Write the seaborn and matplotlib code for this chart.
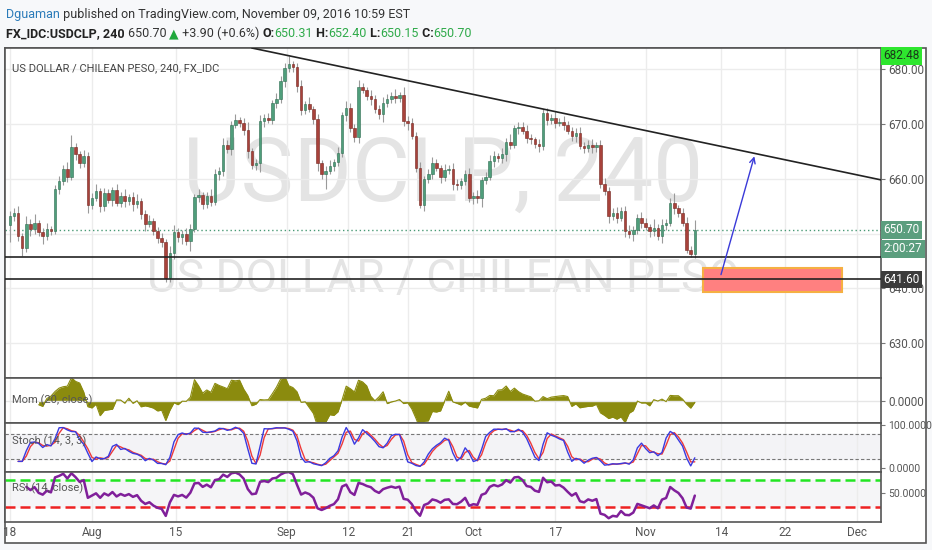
import matplotlib
matplotlib.use('Agg')
import matplotlib.pyplot as plt
from matplotlib.patches import Rectangle
import numpy as np
import pandas as pd
import seaborn as sns

sns.set_theme(style='white')
plt.rcParams['font.family'] = ['Roboto', 'DejaVu Sans']

# price bars (index = bar number, roughly half a trading day each)
open0 = 651.5
closes = [653.2,653.8,649.5,647.3,651.8,650.8,652.0,650.2,649.6,650.9,
          650.4,658.2,659.6,661.8,660.4,665.8,664.5,662.8,664.2,655.2,
          656.5,657.8,655.0,657.4,656.2,658.0,655.6,656.8,655.9,656.6,
          655.4,656.0,653.5,651.8,652.3,650.5,649.2,648.5,641.8,646.5,
          650.2,649.3,650.0,648.6,650.8,656.6,657.0,655.4,656.8,655.8,
          660.8,661.5,666.2,665.4,669.8,670.8,670.2,668.9,665.0,662.5,
          662.8,670.5,671.2,670.8,673.8,674.5,677.8,680.2,681.0,680.4,
          677.0,672.5,673.6,672.8,671.0,662.8,660.8,661.5,662.4,663.0,
          664.8,671.6,673.0,669.2,667.6,676.8,676.2,675.2,674.6,672.8,
          671.8,673.8,674.6,675.2,674.8,675.3,670.6,670.2,667.8,662.0,
          655.2,660.0,660.8,662.8,662.0,660.4,661.6,661.8,659.0,658.8,
          659.6,660.8,656.4,656.9,656.5,659.8,660.4,663.2,664.2,663.8,
          664.6,666.8,666.2,669.2,669.5,668.8,667.4,667.2,666.3,666.0,
          672.0,670.8,671.2,670.2,670.4,669.8,668.8,667.8,668.4,666.0,
          665.6,666.2,665.8,666.1,659.0,657.8,653.2,653.8,652.9,654.2,
          650.4,650.0,650.6,652.8,652.0,651.2,650.4,651.0,649.6,651.6,
          652.0,655.6,654.6,653.8,652.0,647.0,646.2,650.7]
up_wick = [1.0,0.8,1.2,0.6,1.4,0.9,1.6,0.5,0.8,1.1,0.4,0.6,0.9,0.7,1.2,2.2,0.8,0.6,1.0,0.7,
           0.9,1.3,0.6,1.0,0.8,0.5,1.1,0.7,1.4,0.6,0.9,1.2,0.5,0.8,1.0,0.6,0.7,0.9,0.5,1.2,
           1.4,0.8,0.6,1.0,0.9,0.7,1.1,0.5,0.8,1.3,0.9,0.6,1.2,0.8,0.7,1.0,0.5,0.9,1.4,0.6,
           0.8,1.1,0.7,0.9,0.6,1.2,1.0,0.9,1.5,0.6,0.8,1.0,0.7,1.3,0.5,0.9,0.6,0.8,1.1,0.7,
           1.0,0.6,1.2,0.8,0.9,1.3,0.7,0.5,1.0,0.8,0.6,1.1,0.9,0.7,1.2,0.6,1.4,0.8,0.9,0.7,
           1.0,0.6,0.9,1.2,0.8,0.5,1.1,0.7,1.0,0.9,0.6,0.8,1.2,0.7,1.0,0.6,0.9,1.1,0.8,0.5,
           1.0,0.7,1.3,0.6,0.9,0.8,1.1,0.7,0.5,1.0,0.8,0.9,0.6,1.2,0.7,1.0,0.8,0.6,0.9,1.1,
           0.7,0.8,1.0,0.6,0.9,1.2,0.7,0.8,1.0,0.6,0.9,1.1,0.8,0.7,1.2,0.9,0.6,1.6,0.8,1.0,
           0.7,0.9,1.8,0.6,0.8,1.0,0.7,1.7]
dn_wick = [3.0,1.0,0.8,1.4,0.6,1.2,0.9,0.7,1.5,0.8,0.6,0.5,1.0,0.7,0.9,0.6,1.1,0.8,0.7,1.5,
           0.8,0.6,1.0,0.9,0.7,1.2,0.5,0.8,1.1,0.6,1.3,0.7,0.9,1.4,0.6,0.8,1.0,0.9,0.7,0.6,
           1.1,0.8,1.3,0.7,1.8,0.6,0.9,1.0,0.7,0.8,0.6,1.1,0.9,0.7,1.0,0.6,0.8,0.9,1.2,0.7,
           0.9,1.6,1.0,0.6,0.8,0.9,0.7,1.0,0.6,0.8,1.2,0.9,0.7,0.6,1.0,1.3,0.8,2.6,0.7,0.9,
           0.6,0.8,1.0,0.7,0.9,1.0,0.6,0.8,1.1,0.7,0.9,1.5,0.6,0.8,1.0,0.7,0.9,1.2,0.6,0.8,
           0.5,1.0,0.7,0.9,0.6,1.1,0.8,0.7,1.0,0.9,0.6,0.8,0.7,1.0,0.9,1.6,0.8,0.6,1.0,0.7,
           0.9,1.4,0.8,0.6,1.0,0.7,0.9,0.8,0.6,1.1,0.7,0.9,0.8,1.0,0.6,0.8,0.7,0.9,1.0,0.6,
           0.8,0.7,1.0,0.9,0.6,0.8,1.2,0.7,0.9,0.6,1.0,0.8,1.3,0.7,0.9,0.6,1.0,0.8,0.7,1.4,
           0.9,0.6,1.0,0.8,0.7,0.6,0.5,0.6]

tick_labels = ['18', 'Aug', '15', 'Sep', '12', '21', 'Oct', '17', 'Nov', '14', '22', 'Dec']
tick_bars = [0, 20, 40.5, 67.5, 82.5, 97, 113, 133, 155, 173.5, 189, 206.5]

# drawings on the chart
trend_x = [59, 212.4]
trend_y = [683.9, 659.8]
support_levels = [645.7, 641.6]
zone_x = [169, 203]
zone_y = [639.3, 643.7]
arrow_from = (173.2, 642.0)
arrow_to = (181.7, 664.6)
last_price = 650.70
high_price = 682.48
countdown_price = 647.2

df = pd.DataFrame({'close': closes})
df['bar'] = np.arange(len(df))
df['open'] = df['close'].shift(1).fillna(open0)
df['high'] = df[['open', 'close']].max(axis=1) + np.array(up_wick)
df['low'] = df[['open', 'close']].min(axis=1) - np.array(dn_wick)

# indicators (periods scaled to these coarser bars)
df['mom'] = df['close'] - df['close'].shift(7)
lo = df['low'].rolling(6, min_periods=3).min()
hi = df['high'].rolling(6, min_periods=3).max()
raw_k = 100 * (df['close'] - lo) / (hi - lo)
df['k'] = raw_k.rolling(2, min_periods=1).mean()
df['d'] = df['k'].rolling(2, min_periods=1).mean()
delta = df['close'].diff()
gain = delta.clip(lower=0).ewm(alpha=1/8, adjust=False, min_periods=4).mean()
loss = (-delta.clip(upper=0)).ewm(alpha=1/8, adjust=False, min_periods=4).mean()
df['rsi'] = 100 - 100 / (1 + gain / loss)

W, H = 932, 550
fig = plt.figure(figsize=(W/100, H/100), dpi=100, facecolor='#f7f8fa')

def fy(px):
    return 1 - px / H

fig.patches.append(Rectangle((5/W, fy(543)), 921/W, 495/H, transform=fig.transFigure,
                             facecolor='white', edgecolor='#555555', lw=1.2, zorder=-10))

L, R = 5/W, 881/W
ax = fig.add_axes([L, fy(378), R-L, 330/H])
ax_mom = fig.add_axes([L, fy(423), R-L, 45/H])
ax_sto = fig.add_axes([L, fy(471.7), R-L, 48.7/H])
ax_rsi = fig.add_axes([L, fy(521.7), R-L, 50/H])

xlim = (-1.2, 212.4)
for a in [ax, ax_mom, ax_sto, ax_rsi]:
    a.set_xlim(*xlim)
    a.set_xticks(tick_bars)
    a.grid(axis='x', color='#ececec', lw=1)
    a.set_axisbelow(True)
    a.yaxis.tick_right()
    a.tick_params(axis='y', direction='out', length=3, width=0.8, color='#777',
                  labelsize=8.5, labelcolor='#555', pad=2)
    a.tick_params(axis='x', bottom=False, labelbottom=False, length=0)
    for s in a.spines.values():
        s.set_color('#555555')
        s.set_linewidth(1.2)

# ---- main pane ----
ax.set_ylim(623.6, 683.9)
ax.set_yticks([630, 640, 650, 660, 670, 680])
ax.set_yticklabels(['630.00', '640.00', '', '660.00', '670.00', '680.00'])
ax.grid(axis='y', color='#ececec', lw=1)

ax.text(0.50, 0.61, 'USDCLP, 240', transform=ax.transAxes, ha='center', va='center',
        fontsize=64, color='#e4e4e4', zorder=0)
ax.text(0.50, 0.300, 'US DOLLAR / CHILEAN PESO', transform=ax.transAxes, ha='center',
        va='center', fontsize=33, color='#e4e4e4', zorder=0)
ax.text(0.008, 0.94, 'US DOLLAR / CHILEAN PESO, 240, FX_IDC', transform=ax.transAxes,
        fontsize=8, color='#444', va='center', ha='left')

up = df['close'] >= df['open']
ax.vlines(df['bar'], df['low'], df['high'], color='#9a9a9a', lw=0.8, zorder=2)
body = (df['close'] - df['open']).abs().clip(lower=0.15)
bottom = df[['open', 'close']].min(axis=1)
ax.bar(df['bar'][up], body[up], bottom=bottom[up], width=0.62, color='#4f9e7b',
       edgecolor='#2f6d52', lw=0.4, zorder=3)
ax.bar(df['bar'][~up], body[~up], bottom=bottom[~up], width=0.62, color='#a8423b',
       edgecolor='#74261f', lw=0.4, zorder=3)

ax.axhline(last_price, color='#4a9a76', ls=(0, (1, 2)), lw=1, zorder=1)
ax.plot(trend_x, trend_y, color='#222', lw=1.2, zorder=4)
for lv in support_levels:
    ax.axhline(lv, color='#222', lw=1.2, zorder=4)
ax.add_patch(Rectangle((zone_x[0], zone_y[0]), zone_x[1]-zone_x[0], zone_y[1]-zone_y[0],
                       facecolor='#ff8080', edgecolor='#f5b042', lw=1.5, zorder=3))
ax.annotate('', xy=arrow_to, xytext=arrow_from,
            arrowprops=dict(arrowstyle='->', color='#3a3ad8', lw=1, mutation_scale=10), zorder=5)

yt = ax.get_yaxis_transform()
def axis_box(y, s, bg, fg):
    ax.text(1.003, y, s, transform=yt, ha='left', va='center', fontsize=8.5, color=fg,
            bbox=dict(facecolor=bg, edgecolor='none', pad=1.8), zorder=10, clip_on=False)
axis_box(high_price, '682.48', '#2ee62e', '#1a3a1a')
axis_box(last_price, '650.70', '#5b9e7e', 'white')
axis_box(countdown_price, '2:00:27', '#5b9e7e', 'white')
axis_box(support_levels[1], '641.60', '#3b3b3b', 'white')

# ---- momentum ----
ax_mom.set_ylim(-16, 16)
ax_mom.set_yticks([0])
ax_mom.set_yticklabels(['0.0000'])
ax_mom.axhline(0, color='#e6e6e6', lw=1)
ax_mom.fill_between(df['bar'], df['mom'], 0, color='#8b8b0e', lw=0)
sns.lineplot(x=df['bar'], y=df['mom'], ax=ax_mom, color='#8b8b0e', lw=0.8, legend=False)
ax_mom.text(0.008, 0.5, 'Mom (20, close)', transform=ax_mom.transAxes, fontsize=8,
            color='#555', va='center')

# ---- stochastic ----
ax_sto.set_ylim(-8.6, 104.6)
ax_sto.set_yticks([0, 100])
ax_sto.set_yticklabels(['0.0000', '100.0000'])
ax_sto.tick_params(axis='y', labelsize=7.5)
ax_sto.axhspan(20, 80, color='#f3f3f6', zorder=0)
ax_sto.axhline(80, color='#777', ls=(0, (3, 2)), lw=0.8)
ax_sto.axhline(20, color='#777', ls=(0, (3, 2)), lw=0.8)
sns.lineplot(x=df['bar'], y=df['d'], ax=ax_sto, color='#ee3a3a', lw=1, legend=False)
sns.lineplot(x=df['bar'], y=df['k'], ax=ax_sto, color='#3a3ae0', lw=1, legend=False)
ax_sto.text(0.008, 0.62, 'Stoch (14, 3, 3)', transform=ax_sto.transAxes, fontsize=8,
            color='#555', va='center')

# ---- RSI ----
ax_rsi.set_ylim(7.3, 82.5)
ax_rsi.set_yticks([50])
ax_rsi.set_yticklabels(['50.0000'])
ax_rsi.tick_params(axis='y', labelsize=7.5)
ax_rsi.axhspan(30, 70, color='#f5f5f7', zorder=0)
ax_rsi.axhline(70, color='#22e622', ls=(0, (4, 2)), lw=1.8)
ax_rsi.axhline(30, color='#ee2222', ls=(0, (4, 2)), lw=1.8)
sns.lineplot(x=df['bar'], y=df['rsi'], ax=ax_rsi, color='#80209a', lw=1.8, legend=False)
ax_rsi.text(0.008, 0.66, 'RSI (14, close)', transform=ax_rsi.transAxes, fontsize=8,
            color='#555', va='center')
ax_rsi.tick_params(axis='x', bottom=False, labelbottom=True, labelsize=8.5,
                   labelcolor='#555', pad=3, length=0)
ax_rsi.set_xticklabels(tick_labels)

for a in [ax, ax_mom, ax_sto, ax_rsi]:
    a.set_xlabel('')
    a.set_ylabel('')

# ---- header ----
def chain(parts, y):
    t = fig.text(6/W, y, parts[0][0], color=parts[0][1], fontweight=parts[0][2],
                 fontsize=9, va='baseline')
    for s, c, w in parts[1:]:
        t = ax.annotate(s, xy=(1, 0), xycoords=t, color=c, fontweight=w, fontsize=9,
                        va='bottom', ha='left', annotation_clip=False)

green = '#2faa4a'
chain([('Dguaman', '#2b7bb9', 'normal'),
       (' published on TradingView.com, November 09, 2016 10:59 EST', '#333', 'normal')],
      fy(18))
chain([('FX_IDC:USDCLP, 240', '#222', 'bold'), (' 650.70 ', '#333', 'normal'),
       ('▲', '#1fa83c', 'normal'), (' +3.90 (+0.6%) ', '#333', 'normal'),
       ('O:', '#222', 'bold'), ('650.31', green, 'normal'),
       (' H:', '#222', 'bold'), ('652.40', green, 'normal'),
       (' L:', '#222', 'bold'), ('650.15', green, 'normal'),
       (' C:', '#222', 'bold'), ('650.70', green, 'normal')], fy(37))

fig.savefig('out.png', dpi=100, facecolor=fig.get_facecolor())
